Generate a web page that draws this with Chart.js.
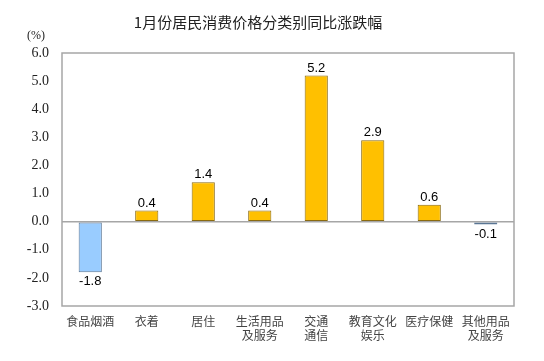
<!DOCTYPE html>
<html><head><meta charset="utf-8">
<script src="https://cdn.jsdelivr.net/npm/chart.js@4"></script>
<style>html,body{margin:0;padding:0;background:#fff}#w{width:544px;height:361px}</style>
</head><body><div id="w"><canvas id="c" width="544" height="361"></canvas></div>
<script>
const categories = [["食品烟酒"],["衣着"],["居住"],["生活用品","及服务"],["交通","通信"],["教育文化","娱乐"],["医疗保健"],["其他用品","及服务"]];
const values = [-1.8, 0.4, 1.4, 0.4, 5.2, 2.9, 0.6, -0.1];
const yTicks = [-3.0, -2.0, -1.0, 0.0, 1.0, 2.0, 3.0, 4.0, 5.0, 6.0];
const titleText = "1月份居民消费价格分类别同比涨跌幅";
const unitText = "(%)";

const cjk = "'Noto Sans CJK SC', sans-serif";
const serif = "'Liberation Serif', serif";
const deco = {
  id: 'deco',
  beforeDatasetsDraw(chart) {
    const {ctx, chartArea: a} = chart;
    ctx.save();
    ctx.strokeStyle = '#a6a6a6';
    ctx.lineWidth = 1.5;
    ctx.strokeRect(a.left, a.top, a.right - a.left, a.bottom - a.top);
    ctx.restore();
  },
  afterDatasetsDraw(chart) {
    const {ctx} = chart;
    const meta = chart.getDatasetMeta(0);
    ctx.save();
    ctx.font = "13px 'Liberation Sans', Arial, sans-serif";
    ctx.fillStyle = '#000';
    ctx.textAlign = 'center';
    meta.data.forEach((el, i) => {
      const v = values[i];
      if (v >= 0) { ctx.textBaseline = 'bottom'; ctx.fillText(v.toFixed(1), el.x, el.y - 1); }
      else { ctx.textBaseline = 'top'; ctx.fillText(v.toFixed(1), el.x, Math.max(el.y, el.base) + 3); }
    });
    ctx.font = "15px " + cjk;
    ctx.fillStyle = '#222';
    ctx.textBaseline = 'middle';
    ctx.fillText(titleText, 258, 22);
    ctx.font = "12px " + serif;
    ctx.fillText(unitText, 36, 36);
    ctx.restore();
  }
};

new Chart(document.getElementById('c'), {
  type: 'bar',
  data: {
    labels: categories,
    datasets: [{
      data: values,
      backgroundColor: values.map(v => v < 0 ? '#99CCFF' : '#FFC000'),
      borderColor: values.map(v => v < 0 ? '#5a7694' : '#8a6a10'),
      borderWidth: 1,
      borderSkipped: false,
      barPercentage: 0.82,
      categoryPercentage: 0.5
    }]
  },
  options: {
    responsive: false,
    animation: false,
    layout: {padding: {left: 0, top: 53, right: 30, bottom: 0}},
    plugins: {legend: {display: false}, tooltip: {enabled: false}, title: {display: false}},
    scales: {
      x: {
        grid: {display: false, drawTicks: false},
        border: {display: false},
        ticks: {color: '#444', font: {family: cjk, size: 12}, padding: 8, maxRotation: 0, autoSkip: false},
        afterFit(s) { s.height = 55; }
      },
      y: {
        min: -3, max: 6,
        afterBuildTicks(s) { s.ticks = yTicks.map(v => ({value: v})); },
        grid: {
          drawTicks: false,
          color: c => (c.tick && c.tick.value === 0) ? '#a6a6a6' : 'rgba(0,0,0,0)',
          lineWidth: 1.5
        },
        border: {display: false},
        ticks: {color: '#222', font: {family: serif, size: 14}, padding: 13,
          callback: v => Number(v).toFixed(1)},
        afterFit(s) { s.width = 62; }
      }
    }
  },
  plugins: [deco]
});
</script>
</body></html>
